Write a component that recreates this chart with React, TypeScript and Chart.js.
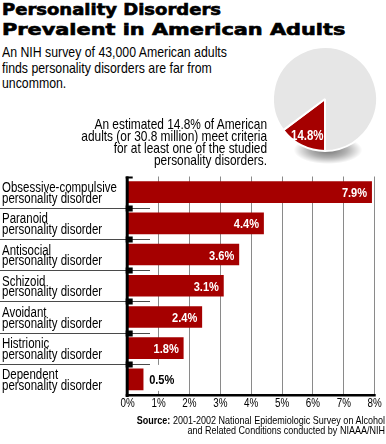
import React, { useEffect, useRef } from "react";
import { Chart, registerables } from "chart.js";

Chart.register(...registerables);

// ---------- data ----------
const titleLines = ["Personality Disorders", "Prevalent in American Adults"];
const subtitleLines = [
  "An NIH survey of 43,000 American adults",
  "finds personality disorders are far from",
  "uncommon.",
];
const noteLines = [
  "An estimated 14.8% of American",
  "adults (or 30.8 million) meet criteria",
  "for at least one of the studied",
  "personality disorders.",
];
const pieLabels = ["Meet criteria", "Do not meet criteria"];
const pieValues = [14.8, 85.2];
const pieCenterLabel = "14.8%";

const categories = [
  ["Obsessive-compulsive", "personality disorder"],
  ["Paranoid", "personality disorder"],
  ["Antisocial", "personality disorder"],
  ["Schizoid", "personality disorder"],
  ["Avoidant", "personality disorder"],
  ["Histrionic", "personality disorder"],
  ["Dependent", "personality disorder"],
];
const prevalence = [7.9, 4.4, 3.6, 3.1, 2.4, 1.8, 0.5];
const xMin = 0;
const xMax = 8;
const xStep = 1;

const sourceBold = "Source:";
const sourceLines = [
  " 2001-2002 National Epidemiologic Survey on Alcohol",
  "and Related Conditions conducted by NIAAA/NIH",
];

// ---------- styles ----------
const SANS = '"Liberation Sans", Arial, sans-serif';
const HEAVY = '"DejaVu Sans", "Liberation Sans", sans-serif';
const NARROW_X = 0.82; // horizontal condensing of Liberation Sans
const RED = "#a50000";
const PIE_GRAY = "#e6e6e6";
const GRID = "#8a8a8a";
const titleScale = [1.2, 1.39];

const fmt = (v: number) => `${v.toFixed(1)}%`;

function narrowText(
  ctx: CanvasRenderingContext2D,
  text: string,
  x: number,
  y: number,
  font: string,
  align: CanvasTextAlign,
  color: string
) {
  ctx.save();
  ctx.font = font;
  ctx.fillStyle = color;
  ctx.textAlign = align;
  ctx.textBaseline = "alphabetic";
  ctx.translate(x, y);
  ctx.scale(NARROW_X, 1);
  ctx.fillText(text, 0, 0);
  ctx.restore();
}

function BarChart() {
  const ref = useRef<HTMLCanvasElement | null>(null);
  useEffect(() => {
    if (!ref.current) return;
    const decor = {
      id: "decor",
      afterDatasetsDraw(chart: any) {
        const ctx = chart.ctx;
        const meta = chart.getDatasetMeta(0);
        const font = `bold 13.5px ${SANS}`;
        meta.data.forEach((bar: any, i: number) => {
          const v = prevalence[i];
          const { x, y, height } = bar.getProps(["x", "y", "height"], true);
          const text = fmt(v);
          if (v >= 1) {
            narrowText(ctx, text, x - 4.5, y + 5, font, "right", "#fff");
          } else {
            ctx.save();
            ctx.font = font;
            const w = ctx.measureText(text).width * NARROW_X;
            ctx.fillStyle = "#fff";
            ctx.fillRect(x + 2, y - height / 2 - 4, w + 10, height + 5);
            ctx.restore();
            narrowText(ctx, text, x + 6, y + 5, font, "left", "#000");
          }
        });
      },
      afterDraw(chart: any) {
        const ctx = chart.ctx;
        const ys = chart.scales.y;
        const xs = chart.scales.x;
        const { top, bottom, left, right } = chart.chartArea;
        // category labels
        categories.forEach((lines, i) => {
          const c = ys.getPixelForValue(i);
          lines.forEach((ln, j) => {
            narrowText(ctx, ln, 2, c + j * 10.7, `14px ${SANS}`, "left", "#000");
          });
        });
        // x tick labels
        for (let v = xMin; v <= xMax; v += xStep) {
          narrowText(ctx, `${v}%`, xs.getPixelForValue(v), bottom + 11.7, `12px ${SANS}`, "center", "#000");
        }
        ctx.save();
        // category separators
        const seps: number[] = [];
        for (let i = 0; i < categories.length - 1; i++) {
          seps.push((ys.getPixelForValue(i) + ys.getPixelForValue(i + 1)) / 2);
        }
        ctx.strokeStyle = "#4a4a4a";
        ctx.lineWidth = 1;
        seps.forEach((s) => {
          const yy = Math.round(s) + 0.5;
          ctx.beginPath();
          ctx.moveTo(0, yy);
          ctx.lineTo(150, yy);
          ctx.stroke();
        });
        ctx.fillStyle = "#000";
        ctx.fillRect(left - 2, top, 3, bottom - top + 2);
        ctx.fillRect(left - 2, top, 7, 2);
        ctx.fillRect(left - 2, bottom - 1, right - left + 3, 2.5);
        seps.forEach((s) => {
          ctx.fillRect(left - 2, Math.round(s) - 2.5, 7, 6);
        });
        ctx.restore();
      },
    };
    const chart = new Chart(ref.current, {
      type: "bar",
      data: {
        labels: categories.map((c) => c.join(" ")),
        datasets: [
          {
            data: prevalence,
            backgroundColor: RED,
            borderWidth: 0,
            barThickness: 21,
          },
        ],
      },
      options: {
        indexAxis: "y",
        animation: false,
        responsive: false,
        maintainAspectRatio: false,
        layout: { padding: { left: 2, right: 11.3, top: 16.5, bottom: 0 } },
        plugins: { legend: { display: false }, tooltip: { enabled: false } },
        scales: {
          x: {
            min: xMin,
            max: xMax,
            ticks: { stepSize: xStep, display: false },
            grid: { color: GRID, lineWidth: 1, drawTicks: false },
            border: { display: false },
            afterFit: (s: any) => {
              s.height = 25;
            },
          },
          y: {
            ticks: { display: false },
            grid: { display: false },
            border: { display: false },
            afterFit: (s: any) => {
              s.width = 125.7;
            },
          },
        },
      } as any,
      plugins: [decor],
    });
    return () => chart.destroy();
  }, []);
  return (
    <canvas
      ref={ref}
      width={386}
      height={260}
      style={{ position: "absolute", left: 0, top: 160, width: 386, height: 260 }}
    />
  );
}

function PieChart() {
  const ref = useRef<HTMLCanvasElement | null>(null);
  useEffect(() => {
    if (!ref.current) return;
    const shadow = {
      id: "shadow",
      beforeDatasetsDraw(chart: any) {
        const arc = chart.getDatasetMeta(0).data[0];
        if (!arc) return;
        const { x, y, outerRadius } = arc.getProps(["x", "y", "outerRadius"], true);
        const ctx = chart.ctx;
        const cx = x + 3;
        const cy = y + outerRadius - 1;
        const rx = outerRadius * 0.66;
        const ry = 14;
        ctx.save();
        ctx.translate(cx, cy);
        ctx.scale(1, ry / rx);
        const g = ctx.createRadialGradient(0, 0, 0, 0, 0, rx);
        g.addColorStop(0, "rgba(0,0,0,0.55)");
        g.addColorStop(0.55, "rgba(0,0,0,0.3)");
        g.addColorStop(1, "rgba(0,0,0,0)");
        ctx.fillStyle = g;
        ctx.beginPath();
        ctx.arc(0, 0, rx, 0, Math.PI * 2);
        ctx.fill();
        ctx.restore();
      },
      afterDatasetsDraw(chart: any) {
        const arc = chart.getDatasetMeta(0).data[0];
        if (!arc) return;
        const { x, y, startAngle, endAngle, outerRadius } = arc.getProps(
          ["x", "y", "startAngle", "endAngle", "outerRadius"],
          true
        );
        const mid = (startAngle + endAngle) / 2;
        const rr = outerRadius * 0.76;
        narrowText(
          chart.ctx,
          pieCenterLabel,
          x + Math.cos(mid) * rr,
          y + Math.sin(mid) * rr + 5.5,
          `bold 14px ${SANS}`,
          "center",
          "#fff"
        );
      },
    };
    const chart = new Chart(ref.current, {
      type: "pie",
      data: {
        labels: pieLabels,
        datasets: [
          {
            data: pieValues,
            backgroundColor: [RED, PIE_GRAY],
            borderColor: "#fff",
            borderWidth: 2,
          },
        ],
      },
      options: {
        animation: false,
        responsive: false,
        maintainAspectRatio: false,
        rotation: 180,
        layout: { padding: { left: 12, right: 8, top: 6, bottom: 18 } },
        plugins: { legend: { display: false }, tooltip: { enabled: false } },
      } as any,
      plugins: [shadow],
    });
    return () => chart.destroy();
  }, []);
  return (
    <canvas
      ref={ref}
      width={126}
      height={130}
      style={{ position: "absolute", left: 260, top: 40, width: 126, height: 130 }}
    />
  );
}

export default function App() {
  return (
    <div
      style={{
        position: "absolute",
        left: 0,
        top: 0,
        width: 386,
        height: 444,
        background: "#fff",
        overflow: "hidden",
        color: "#000",
      }}
    >
      <div
        style={{
          position: "absolute",
          left: 2,
          top: 0,
          fontFamily: HEAVY,
          fontWeight: 900,
          fontSize: 15,
          lineHeight: "20px",
          whiteSpace: "nowrap",
          WebkitTextStroke: "0.6px #000",
        }}
      >
        {titleLines.map((t, i) => (
          <div
            key={i}
            style={{ transform: `scaleX(${titleScale[i]})`, transformOrigin: "left top" }}
          >
            {t}
          </div>
        ))}
      </div>
      <div
        style={{
          position: "absolute",
          left: 2,
          top: 44,
          fontFamily: SANS,
          fontSize: 15,
          lineHeight: "15.5px",
          whiteSpace: "nowrap",
          transform: `scaleX(${NARROW_X})`,
          transformOrigin: "left top",
        }}
      >
        {subtitleLines.map((t, i) => (
          <div key={i}>{t}</div>
        ))}
      </div>
      <PieChart />
      <div
        style={{
          position: "absolute",
          right: 118.7,
          top: 118,
          width: 300,
          textAlign: "right",
          fontFamily: SANS,
          fontSize: 14.5,
          lineHeight: "12px",
          whiteSpace: "nowrap",
          transform: `scaleX(${NARROW_X})`,
          transformOrigin: "right top",
        }}
      >
        {noteLines.map((t, i) => (
          <div key={i}>{t}</div>
        ))}
      </div>
      <BarChart />
      <div
        style={{
          position: "absolute",
          right: 1,
          top: 414.5,
          width: 360,
          textAlign: "right",
          fontFamily: SANS,
          fontSize: 11,
          lineHeight: "10px",
          whiteSpace: "nowrap",
          transform: `scaleX(${NARROW_X})`,
          transformOrigin: "right top",
        }}
      >
        <div>
          <b>{sourceBold}</b>
          {sourceLines[0]}
        </div>
        <div>{sourceLines[1]}</div>
      </div>
    </div>
  );
}
